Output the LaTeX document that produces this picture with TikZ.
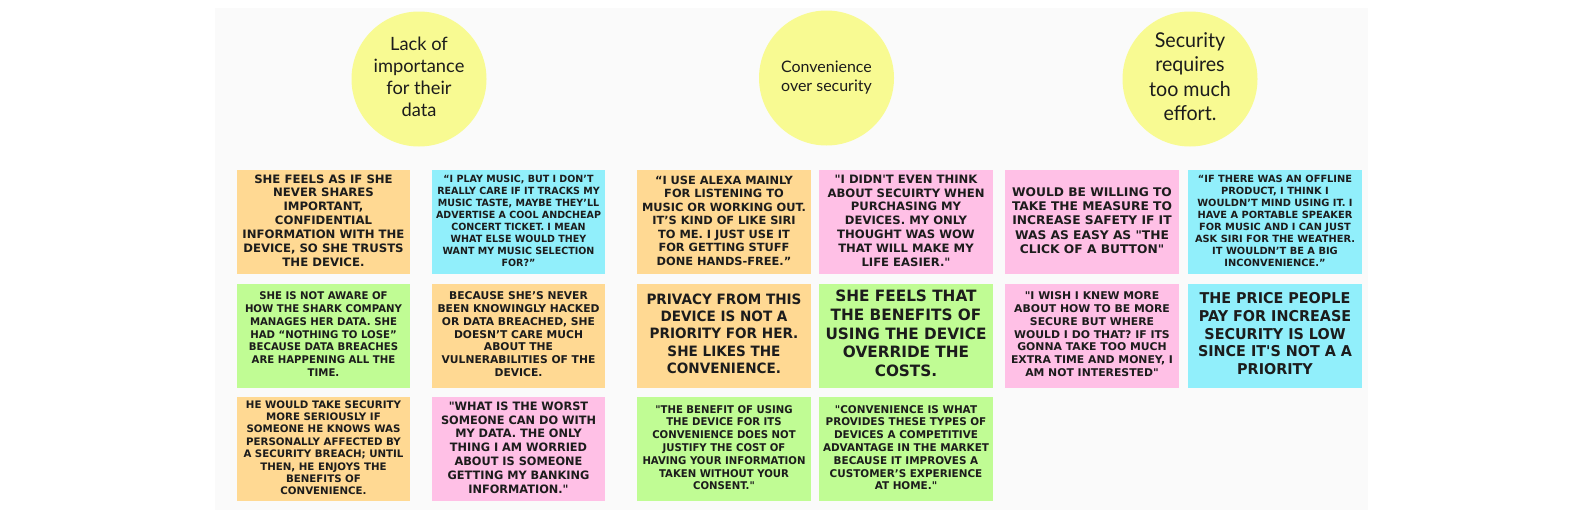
\documentclass[tikz,border=0pt]{standalone}
\usepackage{fontspec}
\usepackage{graphicx}
\newfontfamily\notefont{DejaVu Sans}
\newfontfamily\circfont{Lato}
\definecolor{bgc}{HTML}{FAFAFA}
\definecolor{orn}{HTML}{FFD993}
\definecolor{cyn}{HTML}{91EFFB}
\definecolor{grn}{HTML}{C0FC94}
\definecolor{pnk}{HTML}{FFC0E6}
\definecolor{ylw}{HTML}{F8FA92}
\definecolor{txt}{HTML}{1C1C1C}
\newcommand\nt[3]{\resizebox*{#1pt}{#2pt}{\notefont\bfseries\fontsize{10}{12}\selectfont\begin{tabular}{@{}c@{}}#3\end{tabular}}}
\newcommand\ct[3]{\resizebox*{#1pt}{#2pt}{\circfont\fontsize{10}{12}\selectfont\begin{tabular}{@{}c@{}}#3\end{tabular}}}
\tikzset{
  note/.style={rectangle, inner sep=0pt, minimum width=174pt, minimum height=104pt, text=txt},
  circ/.style={circle, fill=ylw, minimum size=135pt, inner sep=0pt, text=txt},
}
\begin{document}
\begin{tikzpicture}[x=1pt,y=-1pt]
\useasboundingbox (0,0) rectangle (1584,512);
\fill[white] (0,0) rectangle (1584,512);
\fill[bgc] (215,8) rectangle (1368,510);
% circles
\node[circ] (c1) at (419,79) {\ct{90.7}{88}{Lack of\\importance\\for their\\data}};
\node[circ] (c2) at (826.5,78) {\ct{90.7}{38}{Convenience\\over security}};
\node[circ] (c3) at (1190,79) {\ct{81.7}{98}{Security\\requires\\too much\\effort.}};
% column 1 & 2
\node[note, fill=orn, minimum width=173pt] (n1) at (323.5,222) {\nt{162}{97.3}{SHE FEELS AS IF SHE\\NEVER SHARES\\IMPORTANT,\\CONFIDENTIAL\\INFORMATION WITH THE\\DEVICE, SO SHE TRUSTS\\THE DEVICE.}};
\node[note, fill=cyn, minimum width=173pt] (n2) at (518.5,222) {\nt{165}{95.2}{“I PLAY MUSIC, BUT I DON’T\\REALLY CARE IF IT TRACKS MY\\MUSIC TASTE, MAYBE THEY’LL\\ADVERTISE A COOL ANDCHEAP\\CONCERT TICKET. I MEAN\\WHAT ELSE WOULD THEY\\WANT MY MUSIC SELECTION\\FOR?”}};
\node[note, fill=grn, minimum width=173pt] (n3) at (323.5,335.5) {\nt{157}{88.9}{SHE IS NOT AWARE OF\\HOW THE SHARK COMPANY\\MANAGES HER DATA. SHE\\HAD “NOTHING TO LOSE”\\BECAUSE DATA BREACHES\\ARE HAPPENING ALL THE\\TIME.}};
\node[note, fill=orn, minimum width=173pt] (n4) at (518.5,335.5) {\nt{162}{90}{BECAUSE SHE’S NEVER\\BEEN KNOWINGLY HACKED\\OR DATA BREACHED, SHE\\DOESN’T CARE MUCH\\ABOUT THE\\VULNERABILITIES OF THE\\DEVICE.}};
\node[note, fill=orn, minimum width=173pt] (n5) at (323.5,449) {\nt{160}{99}{HE WOULD TAKE SECURITY\\MORE SERIOUSLY IF\\SOMEONE HE KNOWS WAS\\PERSONALLY AFFECTED BY\\A SECURITY BREACH; UNTIL\\THEN, HE ENJOYS THE\\BENEFITS OF\\CONVENIENCE.}};
\node[note, fill=pnk, minimum width=173pt] (n6) at (518.5,449) {\nt{155}{97}{"WHAT IS THE WORST\\SOMEONE CAN DO WITH\\MY DATA. THE ONLY\\THING I AM WORRIED\\ABOUT IS SOMEONE\\GETTING MY BANKING\\INFORMATION."}};
% column 3 & 4
\node[note, fill=orn] (n7) at (724,222) {\nt{164}{95}{“I USE ALEXA MAINLY\\FOR LISTENING TO\\MUSIC OR WORKING OUT.\\IT’S KIND OF LIKE SIRI\\TO ME. I JUST USE IT\\FOR GETTING STUFF\\DONE HANDS-FREE.”}};
\node[note, fill=pnk] (n8) at (906,222) {\nt{157}{97}{"I DIDN'T EVEN THINK\\ABOUT SECUIRTY WHEN\\PURCHASING MY\\DEVICES. MY ONLY\\THOUGHT WAS WOW\\THAT WILL MAKE MY\\LIFE EASIER."}};
\node[note, fill=orn] (n9) at (724,335.5) {\nt{155}{85.5}{PRIVACY FROM THIS\\DEVICE IS NOT A\\PRIORITY FOR HER.\\SHE LIKES THE\\CONVENIENCE.}};
\node[note, fill=grn] (n10) at (906,335.5) {\nt{161}{93.7}{SHE FEELS THAT\\THE BENEFITS OF\\USING THE DEVICE\\OVERRIDE THE\\COSTS.}};
\node[note, fill=grn] (n11) at (724,449) {\nt{163}{89.6}{"THE BENEFIT OF USING\\THE DEVICE FOR ITS\\CONVENIENCE DOES NOT\\JUSTIFY THE COST OF\\HAVING YOUR INFORMATION\\TAKEN WITHOUT YOUR\\CONSENT."}};
\node[note, fill=grn] (n12) at (906,449) {\nt{166}{89.6}{"CONVENIENCE IS WHAT\\PROVIDES THESE TYPES OF\\DEVICES A COMPETITIVE\\ADVANTAGE IN THE MARKET\\BECAUSE IT IMPROVES A\\CUSTOMER’S EXPERIENCE\\AT HOME."}};
% column 5 & 6
\node[note, fill=pnk] (n13) at (1092,222) {\nt{160}{71.5}{WOULD BE WILLING TO\\TAKE THE MEASURE TO\\INCREASE SAFETY IF IT\\WAS AS EASY AS "THE\\CLICK OF A BUTTON"}};
\node[note, fill=cyn] (n14) at (1275,222) {\nt{160}{95.2}{“IF THERE WAS AN OFFLINE\\PRODUCT, I THINK I\\WOULDN’T MIND USING IT. I\\HAVE A PORTABLE SPEAKER\\FOR MUSIC AND I CAN JUST\\ASK SIRI FOR THE WEATHER.\\IT WOULDN’T BE A BIG\\INCONVENIENCE.”}};
\node[note, fill=pnk] (n15) at (1092,335.5) {\nt{162}{89.6}{"I WISH I KNEW MORE\\ABOUT HOW TO BE MORE\\SECURE BUT WHERE\\WOULD I DO THAT? IF ITS\\GONNA TAKE TOO MUCH\\EXTRA TIME AND MONEY, I\\AM NOT INTERESTED"}};
\node[note, fill=cyn] (n16) at (1275,335.5) {\nt{154}{89.5}{THE PRICE PEOPLE\\PAY FOR INCREASE\\SECURITY IS LOW\\SINCE IT'S NOT A A\\PRIORITY}};
\end{tikzpicture}
\end{document}
